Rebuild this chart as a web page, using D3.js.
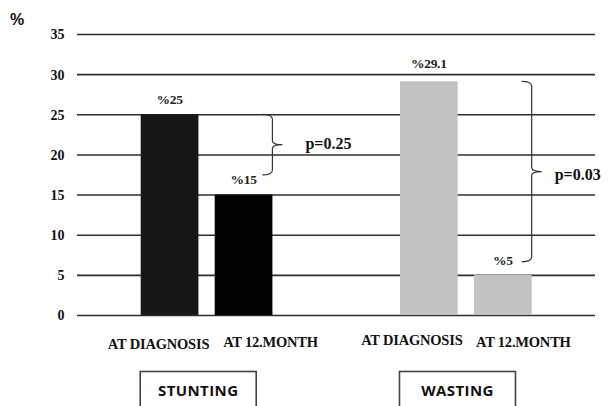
<!DOCTYPE html>
<html>
<head>
<meta charset="utf-8">
<script src="https://cdn.jsdelivr.net/npm/d3@7"></script>
<style>
  html, body { margin: 0; padding: 0; background: #fff; }
  svg { display: block; }
</style>
</head>
<body>
<svg id="chart" width="609" height="406"></svg>
<script>
// ---- data ----
const groups = ["STUNTING", "WASTING"];
const timepoints = ["AT DIAGNOSIS", "AT 12.MONTH"];
const stuntingValues = [25, 15];
const wastingValues = [29.1, 5];
const stuntingLabels = ["%25", "%15"];
const wastingLabels = ["%29.1", "%5"];
const pValues = ["p=0.25", "p=0.03"];
const yTicks = [0, 5, 10, 15, 20, 25, 30, 35];
const yMax = 35;

// ---- build ----
const seriesByGroup = [stuntingValues, wastingValues];
const labelsByGroup = [stuntingLabels, wastingLabels];
const rows = [];
groups.forEach((g, gi) => timepoints.forEach((t, ti) => rows.push({
  group: g, time: t, gi, ti, value: seriesByGroup[gi][ti], label: labelsByGroup[gi][ti]
})));

const svg = d3.select("#chart");
const gridColor = "#2e2e2e";
const barColors = [["#171717", "#020202"], ["#c2c2c2", "#c2c2c2"]];
const serif = "'Liberation Serif', 'Times New Roman', serif";
const sans = "'Open Sans', 'Liberation Sans', Arial, sans-serif";

const y = d3.scaleLinear().domain([0, yMax]).range([315, 34]);
const x0 = d3.scaleBand().domain(groups).range([140.7, 531.7]).paddingInner(0.492).paddingOuter(0);
const x1 = d3.scaleBand().domain(timepoints).range([0, x0.bandwidth()]).paddingInner(0.22).paddingOuter(0);

// gridlines + tick labels
const axis = d3.axisLeft(y).tickValues(yTicks).tickSize(-(595 - 77)).tickPadding(12.5).tickFormat(d3.format("d"));
const ag = svg.append("g").attr("transform", "translate(77,0)").call(axis);
ag.select(".domain").remove();
ag.selectAll(".tick line").attr("stroke", gridColor).attr("stroke-width", 1.6);
ag.selectAll(".tick text")
  .attr("fill", "#111").attr("font-family", serif).attr("font-weight", "bold")
  .attr("font-size", 14).attr("dy", "0.35em");

// % axis title
svg.append("text").attr("x", 10).attr("y", 25).text("%")
  .attr("font-family", "'Liberation Sans', Arial, sans-serif").attr("font-weight", "bold")
  .attr("font-size", 16).attr("fill", "#111");

// bars
const barX = d => x0(d.group) + x1(d.time);
svg.append("g").selectAll("rect").data(rows).join("rect")
  .attr("x", barX)
  .attr("y", d => y(d.value))
  .attr("width", x1.bandwidth())
  .attr("height", d => y(0) - y(d.value))
  .attr("fill", d => barColors[d.gi][d.ti]);

// value labels
const labelLift = [10.5, 10.5, 13, 10];
svg.append("g").selectAll("text").data(rows).join("text")
  .attr("x", d => barX(d) + x1.bandwidth() / 2)
  .attr("y", (d, i) => y(d.value) - labelLift[i])
  .attr("text-anchor", "middle")
  .attr("font-family", serif).attr("font-weight", "bold").attr("font-size", 13.5)
  .attr("letter-spacing", "-0.3")
  .attr("fill", "#222")
  .text(d => d.label);

// category labels
const catShift = [-11, 27, -17, 20.5];
const catBase = [348.5, 347, 345, 347];
svg.append("g").selectAll("text").data(rows).join("text")
  .attr("x", (d, i) => barX(d) + x1.bandwidth() / 2 + catShift[i])
  .attr("y", (d, i) => catBase[i])
  .attr("text-anchor", "middle")
  .attr("font-family", serif).attr("font-weight", "bold").attr("font-size", 14.5)
  .attr("letter-spacing", "-0.2")
  .attr("fill", "#111")
  .text(d => d.time);

// brackets with p-values
const bottomGap = [19.6, 13];
const pShift = [33, 23];
const pDy = [0, 4];
groups.forEach((g, gi) => {
  const vals = seriesByGroup[gi];
  const bx = x0(g) + x1(timepoints[1]) + x1.bandwidth();
  const top = y(d3.max(vals));
  const bottom = y(d3.min(vals)) - bottomGap[gi];
  const mid = (top + bottom) / 2;
  const h = 10;
  const path = `M${bx - h},${top} Q${bx},${top} ${bx},${top + 5} V${mid - 4} Q${bx},${mid} ${bx + 10},${mid} ` +
               `M${bx + 10},${mid} Q${bx},${mid} ${bx},${mid + 4} V${bottom - 5} Q${bx},${bottom} ${bx - h},${bottom}`;
  svg.append("path").attr("d", path).attr("fill", "none").attr("stroke", "#333").attr("stroke-width", 1.2);
  svg.append("text").attr("x", bx + pShift[gi]).attr("y", mid + pDy[gi])
    .attr("font-family", serif).attr("font-weight", "bold").attr("font-size", 16)
    .attr("dy", "0.3em").attr("fill", "#111").text(pValues[gi]);
});

// group boxes
const boxW = 116;
groups.forEach(g => {
  const bx = x0(g);
  svg.append("rect").attr("x", bx - 0.5).attr("y", 371.5).attr("width", boxW).attr("height", 60)
    .attr("fill", "none").attr("stroke", "#444").attr("stroke-width", 1.6);
  svg.append("text").attr("x", bx - 0.5 + boxW / 2).attr("y", 396)
    .attr("text-anchor", "middle").attr("font-family", sans).attr("font-weight", "bold")
    .attr("font-size", 15).attr("letter-spacing", "0.4").attr("fill", "#111").text(g);
});
</script>
</body>
</html>
